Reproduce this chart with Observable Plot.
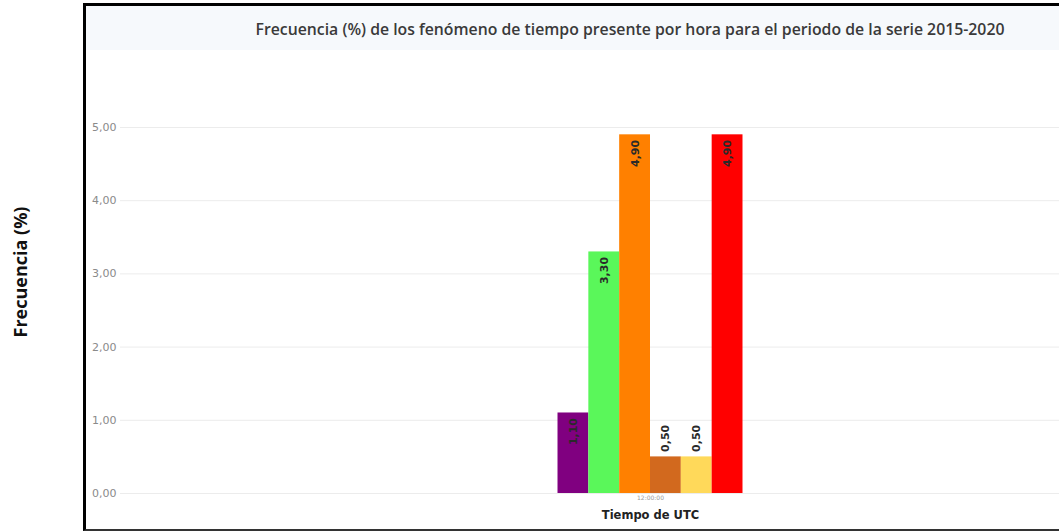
<!DOCTYPE html>
<html>
<head>
<meta charset="utf-8">
<script src="https://cdn.jsdelivr.net/npm/d3@7"></script>
<script src="https://cdn.jsdelivr.net/npm/@observablehq/plot@0.6"></script>
<style>
  html, body { margin: 0; padding: 0; background: #fff; }
  #wrap { position: relative; width: 1059px; height: 531px; overflow: hidden; background: #fff; }
  #band { position: absolute; left: 86px; top: 6px; width: 1100px; height: 44px; background: #f6f9fc; }
  #title { position: absolute; left: 130px; top: 18px; width: 1000px; text-align: center;
           font-family: "Open Sans", sans-serif; font-weight: 600; font-size: 15.8px; color: #3a3a3a; white-space: nowrap; }
  #ylabel { position: absolute; left: 20px; top: 272px; transform: translate(-50%, -50%) rotate(-90deg);
            font-family: "Open Sans", sans-serif; font-weight: 700; font-size: 18px; color: #111; white-space: nowrap; }
  #box { position: absolute; left: 83px; top: 3px; width: 1100px; height: 523px;
         border-left: 3px solid #000; border-top: 3px solid #000; border-bottom: 2px solid #333; }
  #chart { position: absolute; left: 0; top: 0; }
</style>
</head>
<body>
<div id="wrap">
  <div id="band"></div>
  <div id="chart"></div>
  <div id="title"></div>
  <div id="ylabel"></div>
  <div id="box"></div>
</div>
<script>
const titleText = "Frecuencia (%) de los fenómeno de tiempo presente por hora para el periodo de la serie 2015-2020";
const yLabel = "Frecuencia (%)";
const xLabel = "Tiempo de UTC";
const hours = ["12:00:00"];
const series = ["s1", "s2", "s3", "s4", "s5", "s6"];
const values = [1.10, 3.30, 4.90, 0.50, 0.50, 4.90];
const colors = ["#800080", "#5af75a", "#ff8000", "#d2691e", "#ffd95a", "#ff0000"];
const yTicks = [0, 1, 2, 3, 4, 5];

document.getElementById("title").textContent = titleText;
document.getElementById("ylabel").textContent = yLabel;

const fmt = v => v.toFixed(2).replace(".", ",");
const data = series.map((s, i) => ({serie: s, valor: values[i], hora: hours[0]}));

const chart = Plot.plot({
  width: 1059,
  height: 531,
  marginLeft: 120,
  marginRight: -121,
  marginTop: 127,
  marginBottom: 38,
  style: {fontFamily: "DejaVu Sans, sans-serif", fontSize: "11px", color: "#8a8a8a", background: "transparent"},
  x: {domain: series, paddingInner: 0, paddingOuter: 14.19, round: false, axis: null},
  y: {domain: [0, 5], ticks: yTicks, tickFormat: fmt, tickSize: 0, tickPadding: 4, label: null},
  color: {domain: series, range: colors},
  marks: [
    Plot.ruleY(yTicks, {stroke: "#ececec", strokeWidth: 1}),
    Plot.barY(data, {x: "serie", y: "valor", fill: "serie"}),
    Plot.text(data.filter(d => d.valor >= 1), {x: "serie", y: "valor", text: d => fmt(d.valor), rotate: -90,
      textAnchor: "end", dy: 5, fill: "#2a2a2a", fontWeight: "bold", fontSize: 11}),
    Plot.text(data.filter(d => d.valor < 1), {x: "serie", y: "valor", text: d => fmt(d.valor), rotate: -90,
      textAnchor: "start", dy: -5, fill: "#2a2a2a", fontWeight: "bold", fontSize: 11}),
    Plot.text(hours, {frameAnchor: "bottom", lineAnchor: "top", dy: 2, fontSize: 6, fill: "#999"}),
    Plot.text([xLabel], {frameAnchor: "bottom", lineAnchor: "top", dy: 17, fontSize: 11.5, fontWeight: "bold", fill: "#222"})
  ]
});
document.getElementById("chart").appendChild(chart);
</script>
</body>
</html>
